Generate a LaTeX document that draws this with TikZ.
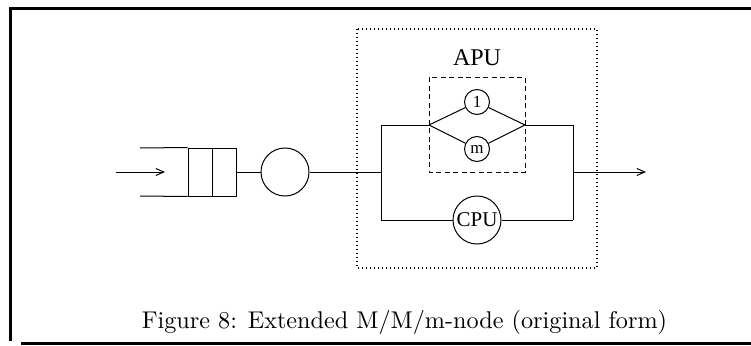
\documentclass[tikz,border=0pt]{standalone}
\usepackage{fontspec}
\newfontfamily\figfont{Liberation Serif}
\usetikzlibrary{arrows.meta}
\begin{document}
\begin{tikzpicture}[x=1pt,y=-1pt,
  wire/.style={line width=1pt},
  server/.style={draw,circle,line width=1pt,inner sep=0pt,font=\figfont},
  arr/.style={wire,-{Straight Barb[length=8pt,width=7pt]}},
  dotbox/.style={line width=1.4pt,dash pattern=on 1.4pt off 2.6pt},
  dashbox/.style={line width=1pt,dash pattern=on 5pt off 3.5pt}]
\useasboundingbox (0,0) rectangle (751,345);
% frame
\draw[line width=3pt] (9,8.3) -- (751,8.3);
\draw[line width=3pt] (10.5,7) -- (10.5,341);
\draw[line width=3.5pt] (21,343.3) -- (751,343.3);
% input
\coordinate (in) at (116,172);
\coordinate (qin) at (165,172);
\draw[arr] (in) -- (qin);
% queue
\node[draw,wire,minimum width=48pt,minimum height=48pt,inner sep=0pt] (queue) at (212,172) {};
\draw[wire] (queue.north) -- (queue.south);
\draw[wire] (queue.north west) -- (140,148);
\draw[wire] (queue.south west) -- (140,196);
% server
\node[server,minimum size=48pt] (srv) at (285,172) {};
\draw[wire] (queue.east) -- (srv.west);
% APU region
\draw[dotbox] (357,29) rectangle (597,268);
\node[font=\figfont\fontsize{24}{26}\selectfont] (apu) at (477,58) {APU};
\draw[dashbox] (429,77) rectangle (525,172);
\coordinate (split) at (381,172);
\coordinate (tl) at (381,125);
\coordinate (bl) at (381,220);
\coordinate (dl) at (429,125);
\coordinate (dr) at (525,125);
\coordinate (tr) at (573,125);
\coordinate (br) at (573,220);
\coordinate (join) at (573,172);
\coordinate (out) at (646,172);
\node[server,minimum size=25pt,font=\figfont\fontsize{17}{18}\selectfont] (p1) at (477,102) {\raisebox{-1pt}{1}};
\node[server,minimum size=25pt,font=\figfont\fontsize{17}{18}\selectfont] (pm) at (477,149) {\raisebox{-3pt}{m}};
\node[server,minimum size=48pt,font=\figfont\fontsize{21}{22}\selectfont] (cpu) at (477,220) {CPU};
\draw[wire] (srv.east) -- (split);
\draw[wire] (tl) -- (bl);
\draw[wire] (tl) -- (dl);
\draw[wire] (dl) -- (p1);
\draw[wire] (dl) -- (pm);
\draw[wire] (p1) -- (dr);
\draw[wire] (pm) -- (dr);
\draw[wire] (dr) -- (tr);
\draw[wire] (bl) -- (cpu);
\draw[wire] (cpu) -- (br);
\draw[wire] (tr) -- (br);
\draw[arr] (join) -- (out);
% caption
\node (caption) at (404.5,322) {\scalebox{2.42}{\fontsize{10}{12}\selectfont Figure 8: Extended M/M/m-node (original form)}};
\end{tikzpicture}
\end{document}
